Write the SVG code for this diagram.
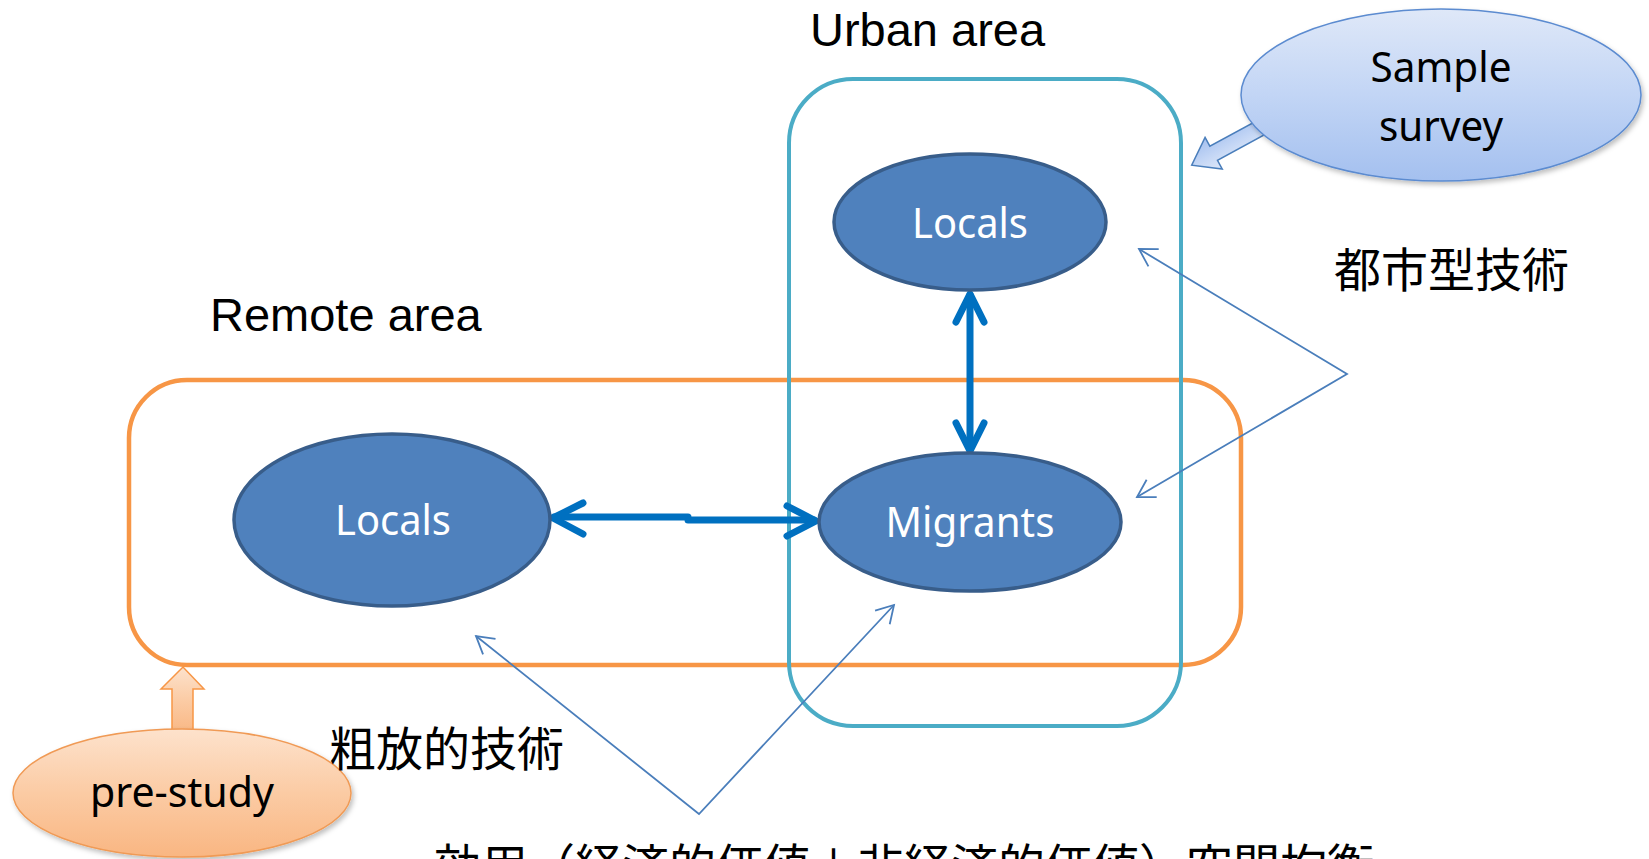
<svg xmlns="http://www.w3.org/2000/svg" width="1649" height="859" viewBox="0 0 1649 859">
<defs>
<style>
.lbl{font-family:"Liberation Sans",Arial,sans-serif;font-size:47px;fill:#000}
.cjk{font-family:"Noto Sans CJK JP","Noto Sans CJK SC",sans-serif;font-size:47px;fill:#000}
.node{fill:#4F81BD;stroke:#385D8A;stroke-width:3.5}
.ntxt{font-family:"Noto Sans","Open Sans",sans-serif;font-size:42px;fill:#fff;text-anchor:middle}
.btxt{font-family:"Noto Sans","Open Sans",sans-serif;font-size:42px;fill:#000;text-anchor:middle}
.thick{fill:none;stroke:#0070C0;stroke-width:7;stroke-linecap:round;stroke-linejoin:round}
.thin{fill:none;stroke:#4A7EBB;stroke-width:1.8}
</style>
<linearGradient id="gBlue" x1="0" y1="0" x2="0" y2="1">
<stop offset="0" stop-color="#DFE8F8"/>
<stop offset="0.5" stop-color="#C2D5F5"/>
<stop offset="1" stop-color="#A4C0EF"/>
</linearGradient>
<linearGradient id="gOrange" x1="0" y1="0" x2="0" y2="1">
<stop offset="0" stop-color="#FDE2CC"/>
<stop offset="0.5" stop-color="#FBCBA4"/>
<stop offset="1" stop-color="#F9B682"/>
</linearGradient>
<filter id="sh" x="-10%" y="-10%" width="125%" height="130%">
<feDropShadow dx="2" dy="3" stdDeviation="2.5" flood-color="#000" flood-opacity="0.25"/>
</filter>
<marker id="ah" markerUnits="userSpaceOnUse" markerWidth="30" markerHeight="30" viewBox="-20 -15 25 30" refX="0" refY="0" orient="auto-start-reverse">
<path d="M-17,-10 L0,0 L-17,10" fill="none" stroke="#4A7EBB" stroke-width="1.8"/>
</marker>
</defs>
<rect width="1649" height="859" fill="#fff"/>

<g id="remote-area">
<rect x="129" y="380" width="1112" height="285" rx="58" ry="58" fill="none" stroke="#F79646" stroke-width="4.5"/>
<text class="lbl" x="210" y="331">Remote area</text>
</g>
<g id="urban-area">
<rect x="789" y="79" width="392" height="647" rx="64" ry="64" fill="none" stroke="#4BACC6" stroke-width="4"/>
<text class="lbl" x="810" y="46">Urban area</text>
</g>

<g id="connectors">
<path class="thick" d="M554,517 H688 V520 H814"/>
<polyline class="thick" points="583,503 553,518 583,534"/>
<polyline class="thick" points="787,506 816,521 787,536"/>
<line class="thick" x1="970" y1="295" x2="970" y2="449"/>
<polyline class="thick" points="956,322 970,294 984,322"/>
<polyline class="thick" points="956,423 970,451 984,423"/>
<polyline class="thin" points="1139,249 1347,374 1137,497" marker-start="url(#ah)" marker-end="url(#ah)"/>
<polyline class="thin" points="476,636 699,814 894,605" marker-start="url(#ah)" marker-end="url(#ah)"/>
<polygon points="-12,-8 55,-8 55,-18 80,0 55,18 55,8 -12,8" transform="translate(1262,127) rotate(151.5)" fill="url(#gBlue)" stroke="#4A7EBB" stroke-width="1.5"/>
<polygon points="172,735 172,689 161,689 183,667 204,689 193,689 193,735" fill="url(#gOrange)" stroke="#F79646" stroke-width="1.5"/>
</g>

<g id="urban-locals">
<ellipse class="node" cx="970" cy="222" rx="136" ry="68"/>
<text class="ntxt" x="970" y="238" textLength="116" lengthAdjust="spacingAndGlyphs">Locals</text>
</g>
<g id="remote-locals">
<ellipse class="node" cx="392" cy="520" rx="158" ry="86"/>
<text class="ntxt" x="393" y="535" textLength="116" lengthAdjust="spacingAndGlyphs">Locals</text>
</g>
<g id="migrants">
<ellipse class="node" cx="970" cy="522" rx="151" ry="69"/>
<text class="ntxt" x="970" y="537" textLength="169" lengthAdjust="spacingAndGlyphs">Migrants</text>
</g>

<g id="sample-survey">
<ellipse cx="1441" cy="95" rx="200" ry="86" fill="url(#gBlue)" stroke="#5B8BD0" stroke-width="1.5" filter="url(#sh)"/>
<text class="btxt" x="1441" y="82" textLength="141" lengthAdjust="spacingAndGlyphs">Sample</text>
<text class="btxt" x="1441" y="141" textLength="124" lengthAdjust="spacingAndGlyphs">survey</text>
</g>
<g id="pre-study">
<ellipse cx="182" cy="793" rx="169" ry="64" fill="url(#gOrange)" stroke="#F09A55" stroke-width="1.5" filter="url(#sh)"/>
<text class="btxt" x="182" y="807" textLength="184" lengthAdjust="spacingAndGlyphs">pre-study</text>
</g>

<g id="labels">
<text class="cjk" x="329" y="766">粗放的技術</text>
<text class="cjk" x="1334" y="287">都市型技術</text>
<text class="cjk" x="434" y="883">効用（経済的価値＋非経済的価値）空間均衡</text>
</g>
</svg>
